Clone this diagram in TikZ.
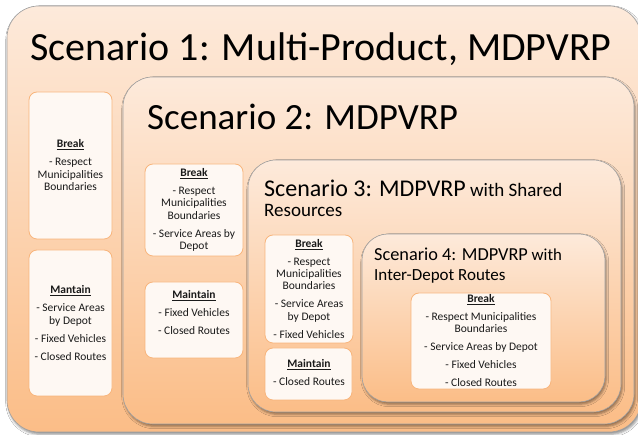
\documentclass[tikz,border=0pt]{standalone}
\usepackage{fontspec}
\setmainfont{Carlito}
\usetikzlibrary{shadows.blur}

\definecolor{peachtop}{HTML}{FDEADB}
\definecolor{peachbot}{HTML}{FBBD87}
\definecolor{framegray}{HTML}{A0A0A0}
\definecolor{cardfill}{HTML}{FEF8F3}
\definecolor{cardline}{HTML}{F8B57C}
\definecolor{inktext}{HTML}{1A1A1A}

\tikzset{
  scen/.style={draw=framegray, line width=0.6pt,
    top color=peachtop, bottom color=peachbot,
    blur shadow={shadow xshift=1.2pt, shadow yshift=-2.2pt,
      shadow blur radius=2.5pt, shadow opacity=45}},
  card/.style={draw=cardline, line width=0.8pt, fill=cardfill, rounded corners=8pt},
  cardtext/.style={anchor=base, inner sep=0pt, text=inktext,
    font=\fontsize{11.5}{12.3}\selectfont},
  ttl/.style={anchor=base west, inner sep=0pt, text=black},
}
\newcommand{\hd}[1]{\underline{\textbf{#1}}}
% centred lines whose baseline is that of the first line
\newcommand{\cardlines}[1]{\begin{tabular}[t]{@{}c@{}}#1\end{tabular}}

\begin{document}
\begin{tikzpicture}[x=1pt, y=-1pt]
  \clip (0,0) rectangle (638,435);
  \fill[white] (0,0) rectangle (638,435);

  % nested scenario frames
  \path[scen, rounded corners=32pt] (7,6) rectangle (641,432);
  \path[scen, rounded corners=30pt] (123,77) rectangle (634,424);
  \path[scen, rounded corners=28pt] (248,160) rectangle (621,412);
  \path[scen, rounded corners=26pt] (362,234) rectangle (605,402);

  % titles
  \node[ttl, font=\fontsize{40}{44}\selectfont] (t1) at (30,61) {Scenario 1: Multi-Product, MDPVRP};
  \node[ttl, font=\fontsize{37}{40}\selectfont] (t2) at (147,130) {Scenario 2: MDPVRP};
  \node[ttl] (t3a) at (264,197) {\fontsize{24}{26}\selectfont Scenario 3: MDPVRP\fontsize{19}{21}\selectfont{} with Shared};
  \node[ttl, font=\fontsize{19}{21}\selectfont] (t3b) at (264,217) {Resources};
  \node[ttl] (t4a) at (374,261) {\fontsize{18.3}{20}\selectfont Scenario 4: MDPVRP\fontsize{16.8}{18}\selectfont{} with};
  \node[ttl, font=\fontsize{17}{19}\selectfont] (t4b) at (374,281) {Inter-Depot Routes};

  % cards
  \path[card] (29,92) rectangle (112,239);
  \path[card] (29,250) rectangle (112,396);
  \path[card] (145,164) rectangle (243,256);
  \path[card] (145,282) rectangle (243,358);
  \path[card] (265,235) rectangle (353,343);
  \path[card] (265,348) rectangle (352,400);
  \path[card] (411,293) rectangle (551,389);

  % card texts
  \node[cardtext] (b1) at (70.5,148) {\cardlines{\hd{Break}\\[5.7pt]- Respect\\Municipalities\\Boundaries}};
  \node[cardtext] (m1) at (70.5,294) {\cardlines{\hd{Mantain}\\[5.7pt]- Service Areas\\by Depot\\[5.7pt]- Fixed Vehicles\\[5.7pt]- Closed Routes}};
  \node[cardtext] (b2) at (194,176.5) {\cardlines{\hd{Break}\\[5.7pt]- Respect\\Municipalities\\Boundaries\\[5.7pt]- Service Areas by\\Depot}};
  \node[cardtext] (m2) at (194,299) {\cardlines{\hd{Maintain}\\[5.7pt]- Fixed Vehicles\\[5.7pt]- Closed Routes}};
  \node[cardtext] (b3) at (309,247.3) {\cardlines{\hd{Break}\\[5.7pt]- Respect\\Municipalities\\Boundaries\\[5.7pt]- Service Areas\\by Depot\\[5.7pt]- Fixed Vehicles}};
  \node[cardtext] (m3) at (309,367.3) {\cardlines{\hd{Maintain}\\[5.7pt]- Closed Routes}};
  \node[cardtext] (b4) at (481,302.3) {\cardlines{\hd{Break}\\[5.7pt]- Respect Municipalities\\Boundaries\\[5.7pt]- Service Areas by Depot\\[5.7pt]- Fixed Vehicles\\[5.7pt]- Closed Routes}};
\end{tikzpicture}
\end{document}
